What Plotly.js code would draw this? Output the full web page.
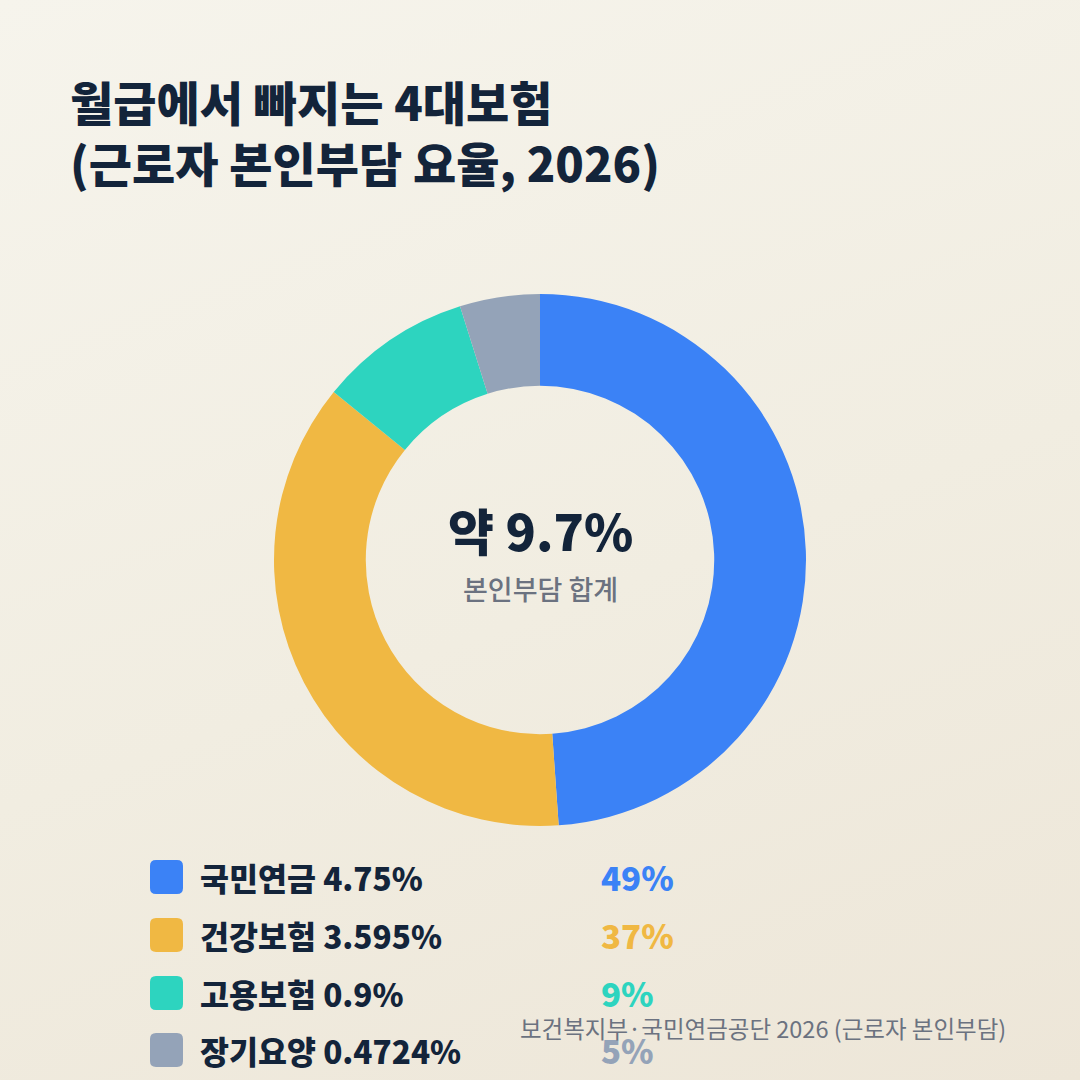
<!DOCTYPE html>
<html>
<head>
<meta charset="utf-8">
<script src="https://cdn.plot.ly/plotly-3.0.1.min.js"></script>
<style>
  html, body { margin: 0; padding: 0; }
  body { width: 1080px; height: 1080px; background: linear-gradient(160deg, #f6f4ec 0%, #f1ede1 55%, #ede6d8 100%); }
  #chart { width: 1080px; height: 1080px; }
</style>
</head>
<body>
<div id="chart"></div>
<script>
// 4대보험 근로자 본인부담 요율 (2026)
var labels = ['국민연금', '건강보험', '고용보험', '장기요양'];
var rates = [4.75, 3.595, 0.9, 0.4724];
var shares = ['49%', '37%', '9%', '5%'];
var colors = ['#3b82f6', '#f0b843', '#2dd4bf', '#94a3b8'];

var KR = '"Noto Sans CJK KR", "Noto Sans", sans-serif';
var ink = '#13243a';

var trace = {
  type: 'pie',
  values: rates,
  labels: labels,
  hole: 0.655,
  sort: false,
  direction: 'clockwise',
  rotation: 0,
  textinfo: 'none',
  hoverinfo: 'label+value',
  marker: { colors: colors, line: { width: 0 } },
  domain: { x: [0.2537, 0.7463], y: [0.2352, 0.7278] },
  showlegend: false
};

function ann(text, x, y, anchor, size, color, weight) {
  return {
    text: text, xref: 'paper', yref: 'paper', x: x / 1080, y: 1 - y / 1080,
    xanchor: anchor, yanchor: 'middle', showarrow: false, align: 'left',
    font: { family: KR, size: size, color: color, weight: weight }
  };
}

var annotations = [
  ann('월급에서 빠지는 4대보험<br>(근로자 본인부담 요율, 2026)', 68, 131, 'left', 47, ink, 900),
  ann('약 9.7%', 540, 529, 'center', 50, ink, 900),
  ann('본인부담 합계', 540, 588, 'center', 27, '#6b7280', 500)
];

var shapes = [];
var rowY = [877, 935, 993, 1050];
function roundRect(x0, y0, x1, y1, r) {
  var X = function (v) { return (v / 1080).toFixed(5); };
  var Y = function (v) { return (1 - v / 1080).toFixed(5); };
  return 'M' + X(x0 + r) + ',' + Y(y0) + ' L' + X(x1 - r) + ',' + Y(y0) +
    ' Q' + X(x1) + ',' + Y(y0) + ' ' + X(x1) + ',' + Y(y0 + r) +
    ' L' + X(x1) + ',' + Y(y1 - r) + ' Q' + X(x1) + ',' + Y(y1) + ' ' + X(x1 - r) + ',' + Y(y1) +
    ' L' + X(x0 + r) + ',' + Y(y1) + ' Q' + X(x0) + ',' + Y(y1) + ' ' + X(x0) + ',' + Y(y1 - r) +
    ' L' + X(x0) + ',' + Y(y0 + r) + ' Q' + X(x0) + ',' + Y(y0) + ' ' + X(x0 + r) + ',' + Y(y0) + ' Z';
}
labels.forEach(function (lab, i) {
  var cy = rowY[i];
  shapes.push({
    type: 'path', xref: 'paper', yref: 'paper',
    path: roundRect(150, cy - 17, 183, cy + 17, 6),
    fillcolor: colors[i], line: { width: 0 }
  });
  annotations.push(ann(lab + ' ' + rates[i] + '%', 198, cy, 'left', 31.5, ink, 800));
  annotations.push(ann(shares[i], 599, cy, 'left', 33, colors[i], 800));
});

annotations.push(ann('보건복지부·국민연금공단 2026 (근로자 본인부담)', 1008, 1028, 'right', 23.5, '#6b7280', 400));

var layout = {
  width: 1080, height: 1080,
  margin: { l: 0, r: 0, t: 0, b: 0 },
  paper_bgcolor: 'rgba(0,0,0,0)',
  plot_bgcolor: 'rgba(0,0,0,0)',
  annotations: annotations,
  shapes: shapes
};

Plotly.newPlot('chart', [trace], layout, { displayModeBar: false, staticPlot: true });
</script>
</body>
</html>
